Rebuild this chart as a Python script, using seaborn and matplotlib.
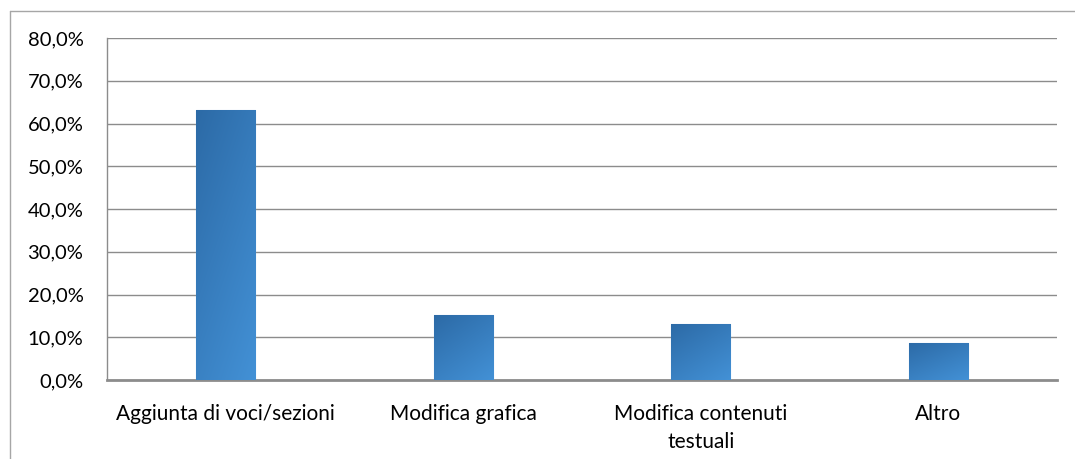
import numpy as np
import pandas as pd
import matplotlib
matplotlib.use("Agg")
import matplotlib.pyplot as plt
import seaborn as sns
from matplotlib.lines import Line2D
from matplotlib.colors import LinearSegmentedColormap

categories = ["Aggiunta di voci/sezioni", "Modifica grafica", "Modifica contenuti\ntestuali", "Altro"]
values = [63.1, 15.2, 13.1, 8.7]
yticks = [0, 10, 20, 30, 40, 50, 60, 70, 80]
ytick_labels = ["0,0%", "10,0%", "20,0%", "30,0%", "40,0%", "50,0%", "60,0%", "70,0%", "80,0%"]

sns.set_style("white")
plt.rcParams['font.family'] = ['Lato', 'DejaVu Sans']

fig = plt.figure(figsize=(10.75, 4.59), dpi=100)
ax = fig.add_axes([107/1075, 79/459, 950/1075, 342/459])

df = pd.DataFrame({"cat": categories, "val": values})
sns.barplot(data=df, x="cat", y="val", color="#3479BD", width=0.25, ax=ax,
            saturation=1, edgecolor="none", zorder=3)

# gradient overlay
cmap = LinearSegmentedColormap.from_list("g", ["#2C6AA6", "#4391D6"])
grad = np.linspace(0, 1, 256).reshape(256, 1) * 0.6 + np.linspace(0, 1, 256).reshape(1, 256) * 0.4
for p in list(ax.patches):
    x0, y0 = p.get_x(), p.get_y()
    w, h = p.get_width(), p.get_height()
    im = ax.imshow(grad, cmap=cmap, extent=[x0, x0 + w, y0, y0 + h], origin="upper",
                   aspect="auto", zorder=4, interpolation="bilinear")
    im.set_clip_path(p)
    p.set_edgecolor("#8CB4DC")
    p.set_linewidth(0.8)

ax.set_xlim(-0.5, 3.5)
ax.set_ylim(0, 80)
ax.set_yticks(yticks)
ax.set_yticklabels(ytick_labels, fontsize=14.5, color="#000000")
ax.tick_params(axis="x", labelsize=15, colors="#000000", length=0, pad=17)
ax.tick_params(axis="y", length=0, pad=17)
for lbl in ax.get_xticklabels():
    lbl.set_horizontalalignment("center")
    lbl.set_linespacing(1.55)
ax.set_xlabel("")
ax.set_ylabel("")
ax.yaxis.grid(True, color="#8C8C8C", linewidth=1.0, zorder=0)
ax.set_axisbelow(True)
for s in ["top", "right"]:
    ax.spines[s].set_visible(False)
ax.spines["left"].set_color("#8C8C8C")
ax.spines["left"].set_linewidth(1.0)
ax.spines["bottom"].set_color("#8C8C8C")
ax.spines["bottom"].set_linewidth(2.0)

# outer chart frame
fig.add_artist(Line2D([10/1075, 1.0], [1 - 11/459, 1 - 11/459], transform=fig.transFigure,
                      color="#A6A6A6", linewidth=1.0))
fig.add_artist(Line2D([10/1075, 10/1075], [0, 1 - 11/459], transform=fig.transFigure,
                      color="#A6A6A6", linewidth=1.0))

fig.savefig("out.png", dpi=100)
